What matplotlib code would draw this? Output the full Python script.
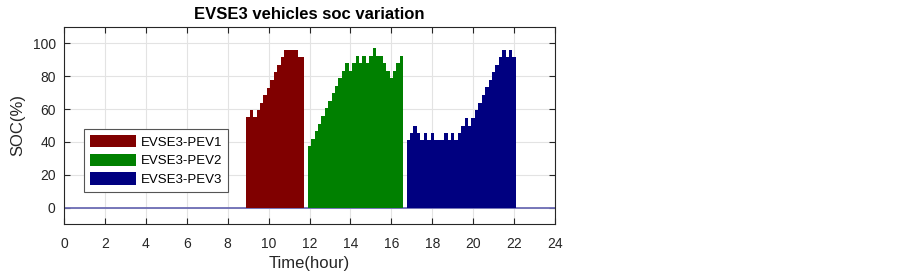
import numpy as np
import matplotlib
matplotlib.use("Agg")
import matplotlib.pyplot as plt

plt.rcParams['font.family'] = ['Liberation Sans', 'DejaVu Sans']

# SOC values (%) for each 10 min slot while the vehicle is plugged in
step = 1 / 6
pev1_start = 9.0
pev1_soc = [55, 59.5, 55, 59.5, 64, 68.5, 73, 77.5, 82.3, 87, 91.5,
            96, 96, 96, 96, 91.5, 91.5]
pev2_start = 12.0
pev2_soc = [37.6, 42, 46.7, 51.2, 55.9, 60.4, 65, 69.5, 74.2, 78.7, 83.3,
            87.8, 83.3, 87.8, 92.5, 87.8, 92.5, 87.8, 92.5, 97, 92.5, 92.5,
            87.8, 83.3, 78.7, 83.3, 87.8, 92.5]
pev3_start = 16 + 5 / 6
pev3_soc = [41, 45.5, 50, 45.5, 41, 45.5, 41, 45.5, 41, 41, 41, 45.5, 41,
            45.5, 41, 45.5, 50, 54.7, 50, 54.7, 59.3, 64, 68.5, 73.2, 77.6,
            82.3, 87, 91.5, 96, 91.5, 96, 91.5]
labels = ['EVSE3-PEV1', 'EVSE3-PEV2', 'EVSE3-PEV3']
colors = ['#800000', '#008000', '#000080']

series = [(pev1_start, pev1_soc), (pev2_start, pev2_soc), (pev3_start, pev3_soc)]

fig = plt.figure(figsize=(9.03, 2.73), dpi=100)
ax = fig.add_axes([64 / 903, 49 / 273, 491 / 903, 197 / 273])

ax.axhline(0, color='#6c6cb4', lw=1.3, zorder=2)
for (t0, soc), lab, c in zip(series, labels, colors):
    t = t0 + step * np.arange(len(soc))
    ax.bar(t, soc, width=step, color=c, linewidth=0, label=lab, zorder=3)

ax.set_xlim(0, 24)
ax.set_ylim(-10, 110)
ax.set_xticks(np.arange(0, 25, 2))
ax.set_yticks(np.arange(0, 101, 20))
ax.grid(True, color='#e3e3e3', lw=0.8, zorder=0)
ax.set_axisbelow(True)
ax.tick_params(direction='in', top=True, right=True, length=4,
               labelsize=10, colors='#262626')
ax.tick_params(axis='x', pad=9)
ax.tick_params(axis='y', pad=6)
for s in ax.spines.values():
    s.set_color('#262626')
    s.set_linewidth(0.8)

ax.set_title('EVSE3 vehicles soc variation', fontsize=12, fontweight='bold', pad=6)
ax.set_xlabel('Time(hour)', fontsize=12, color='#262626', labelpad=4)
ax.set_ylabel('SOC(%)', fontsize=12, color='#262626', labelpad=5)

leg = ax.legend(loc='upper left', bbox_to_anchor=(84 / 903, 1 - 129 / 273),
                bbox_transform=fig.transFigure, fontsize=9.5, fancybox=False,
                framealpha=1, edgecolor='#555555', handlelength=3.5,
                handleheight=1.06, labelspacing=0.38, handletextpad=0.35,
                borderpad=0.45, borderaxespad=0)
leg.get_frame().set_linewidth(0.8)

fig.savefig('out.png', dpi=100)
